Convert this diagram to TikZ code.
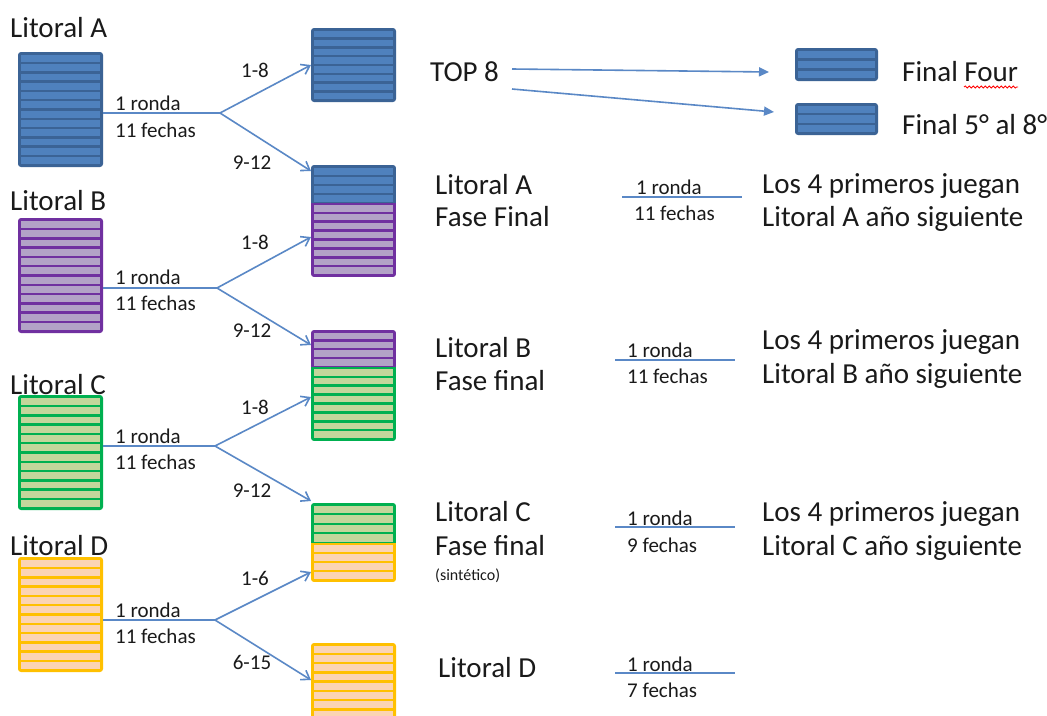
\documentclass[tikz,border=0pt]{standalone}
\usepackage{fontspec}
\setmainfont{Carlito}
\usetikzlibrary{arrows.meta,calc,decorations.pathmorphing}
\definecolor{blueD}{HTML}{3B6395}
\definecolor{blueL}{HTML}{4F81BD}
\definecolor{purD}{HTML}{7030A0}
\definecolor{purL}{HTML}{B3A2C7}
\definecolor{grnD}{HTML}{00B050}
\definecolor{grnL}{HTML}{C3D69B}
\definecolor{orgD}{HTML}{FFC000}
\definecolor{orgL}{HTML}{FBD4B4}
\definecolor{lineC}{HTML}{5A88C6}
\definecolor{txt}{HTML}{1A1A1A}
\newcommand{\band}[6]{%
  \pgfmathsetmacro{\bp}{((#4)-(#3)+2.4)/(#5)}%
  \foreach \i in {1,...,#5}{%
    \fill[#6] ({(#1)+3},{(#3)+(\i-1)*\bp}) rectangle ({(#2)-3},{(#3)+\i*\bp-2.4});
  }}
\newcommand{\boxnode}[5]{%
  \node[inner sep=0,outer sep=0,minimum width={(#4)-(#2)},minimum height={(#5)-(#3)}] (#1) at ({((#2)+(#4))/2},{((#3)+(#5))/2}) {};}
\newcommand{\stripebox}[7]{%
  \fill[#7D, rounded corners=3] (#2,#3) rectangle (#4,#5);
  \band{#2}{#4}{(#3)+3}{(#5)-3}{#6}{#7L}
  \boxnode{#1}{#2}{#3}{#4}{#5}}
\newcommand{\mixbox}[8]{% name x0 y0 x1 y1 ym ctop cbot
  \begin{scope}
    \clip[rounded corners=3] (#2,#3) rectangle (#4,#5);
    \fill[#7D] (#2,#3) rectangle (#4,#6);
    \fill[#8D] (#2,#6) rectangle (#4,#5);
  \end{scope}
  \boxnode{#1}{#2}{#3}{#4}{#5}}
\begin{document}
\begin{tikzpicture}[x=1pt,y=-1pt,
  conn/.style={draw=lineC, line width=1.6pt},
  arr/.style={conn, -{Straight Barb[length=8pt,width=11pt,line width=1.6pt]}},
  farr/.style={conn, -{Triangle[length=10pt,width=9pt]}},
  big/.style={font=\fontsize{29}{34}\selectfont, text=txt, inner sep=0, anchor=base west},
  small/.style={font=\fontsize{21}{25}\selectfont, text=txt, inner sep=0, anchor=base west},
  smallc/.style={font=\fontsize{21}{25}\selectfont, text=txt, inner sep=0, anchor=base},
  tiny/.style={font=\fontsize{16}{19}\selectfont, text=txt, inner sep=0, anchor=base west}]
\useasboundingbox (0,0) rectangle (1047,715);
\clip (0,0) rectangle (1047,715);
\fill[white] (0,0) rectangle (1047,715);

% left boxes
\stripebox{LA}{18}{52}{103}{167}{12}{blue}
\stripebox{LB}{18}{218}{103}{333}{12}{pur}
\stripebox{LC}{18}{395}{103}{510}{12}{grn}
\stripebox{LD}{18}{557}{103}{672}{12}{org}

% right-column boxes
\stripebox{T8}{311}{28}{396}{102}{8}{blue}
\mixbox{MAB}{311}{165}{396}{277}{203}{blue}{pur}
\band{311}{396}{168}{201.5}{4}{blueL}
\band{311}{396}{205}{274}{8}{purL}
\mixbox{MBC}{311}{330}{396}{441}{367}{pur}{grn}
\band{311}{396}{333}{365.5}{4}{purL}
\band{311}{396}{369}{438}{8}{grnL}
\mixbox{MCD}{311}{503}{396}{582}{543}{grn}{org}
\band{311}{396}{506}{541.5}{4}{grnL}
\band{311}{396}{545}{579}{4}{orgL}
\stripebox{BD}{311}{643}{396}{748}{11}{org}

% final boxes
\stripebox{FF}{795}{48}{878}{81}{3}{blue}
\stripebox{F58}{795}{103}{878}{135}{3}{blue}

% left labels
\node[big] (tLA) at (10,37) {Litoral A};
\node[big] (tLB) at (10,210) {Litoral B};
\node[big] (tLC) at (10,394) {Litoral C};
\node[big] (tLD) at (10,555) {Litoral D};

% branch coordinates and arrow tips
\coordinate (bA) at (220,113);
\coordinate (bB) at (217,288);
\coordinate (bC) at (215,446);
\coordinate (bD) at (215,620);
\coordinate (tA2) at (311,171);
\coordinate (tB1) at (311,237);
\coordinate (tB2) at (311,345);
\coordinate (tC1) at (311,397);
\coordinate (tC2) at (311,501);
\coordinate (tD1) at (311,572);
\coordinate (tD2) at (311,680);

\draw[conn] (bA -| LA.east) -- (bA);
\draw[arr] (bA) -- (T8.west);
\draw[arr] (bA) -- (tA2);
\draw[conn] (bB -| LB.east) -- (bB);
\draw[arr] (bB) -- (tB1);
\draw[arr] (bB) -- (tB2);
\draw[conn] (bC -| LC.east) -- (bC);
\draw[arr] (bC) -- (tC1);
\draw[arr] (bC) -- (tC2);
\draw[conn] (bD -| LD.east) -- (bD);
\draw[arr] (bD) -- (tD1);
\draw[arr] (bD) -- (tD2);

% left small labels
\node[small] (rA) at (115,110) {1 ronda};
\node[small] (fA) at (115,137) {11 fechas};
\node[smallc] (uA) at (255,77) {1-8};
\node[smallc] (dA) at (252,169) {9-12};
\node[small] (rB) at (115,284) {1 ronda};
\node[small] (fB) at (115,310) {11 fechas};
\node[smallc] (uB) at (255,249) {1-8};
\node[smallc] (dB) at (252,337) {9-12};
\node[small] (rC) at (115,443) {1 ronda};
\node[small] (fC) at (115,469) {11 fechas};
\node[smallc] (uC) at (255,414) {1-8};
\node[smallc] (dC) at (252,497) {9-12};
\node[small] (rD) at (115,617) {1 ronda};
\node[small] (fD) at (115,643) {11 fechas};
\node[smallc] (uD) at (255,585) {1-6};
\node[smallc] (dD) at (252,669) {6-15};

% TOP 8
\node[big] (top8) at (430,81) {TOP 8};
\coordinate (s1) at (512,69);
\coordinate (s2) at (512,89);
\coordinate (e1) at (769,72);
\coordinate (e2) at (774,112);
\draw[farr] (s1) -- (e1);
\draw[farr] (s2) -- (e2);
\node[big] (tFF) at (902,81) {Final Four};
\node[big] (tF58) at (902,134) {Final 5° al 8°};
\draw[red, line width=0.8pt, decorate, decoration={snake, amplitude=1.1pt, segment length=4pt}] (964,87) -- (1018,87);

% right column texts
\node[big] (ra1) at (435,194) {Litoral A};
\node[big] (ra2) at (435,226) {Fase Final};
\node[big] (rb1) at (435,357) {Litoral B};
\node[big] (rb2) at (435,390) {Fase final};
\node[big] (rc1) at (435,521) {Litoral C};
\node[big] (rc2) at (435,555) {Fase final};
\node[tiny] (rc3) at (435,580) {(sintético)};
\node[big] (rd1) at (438,677) {Litoral D};

% right lines
\coordinate (la1) at (622,197); \coordinate (la2) at (742,197);
\coordinate (lb1) at (615,360); \coordinate (lb2) at (735,360);
\coordinate (lc1) at (615,527); \coordinate (lc2) at (735,527);
\coordinate (ld1) at (615,673); \coordinate (ld2) at (735,673);
\draw[conn] (la1) -- (la2);
\draw[conn] (lb1) -- (lb2);
\draw[conn] (lc1) -- (lc2);
\draw[conn] (ld1) -- (ld2);
\node[small] (qa1) at (636,194) {1 ronda};
\node[small] (qa2) at (634,220) {11 fechas};
\node[small] (qb1) at (627,357) {1 ronda};
\node[small] (qb2) at (627,383) {11 fechas};
\node[small] (qc1) at (627,525) {1 ronda};
\node[small] (qc2) at (627,552) {9 fechas};
\node[small] (qd1) at (627,671) {1 ronda};
\node[small] (qd2) at (627,697) {7 fechas};

% far right texts
\node[big] (pa1) at (762,193) {Los 4 primeros juegan};
\node[big] (pa2) at (762,226) {Litoral A año siguiente};
\node[big] (pb1) at (762,349) {Los 4 primeros juegan};
\node[big] (pb2) at (762,383) {Litoral B año siguiente};
\node[big] (pc1) at (762,521) {Los 4 primeros juegan};
\node[big] (pc2) at (762,555) {Litoral C año siguiente};
\end{tikzpicture}
\end{document}
